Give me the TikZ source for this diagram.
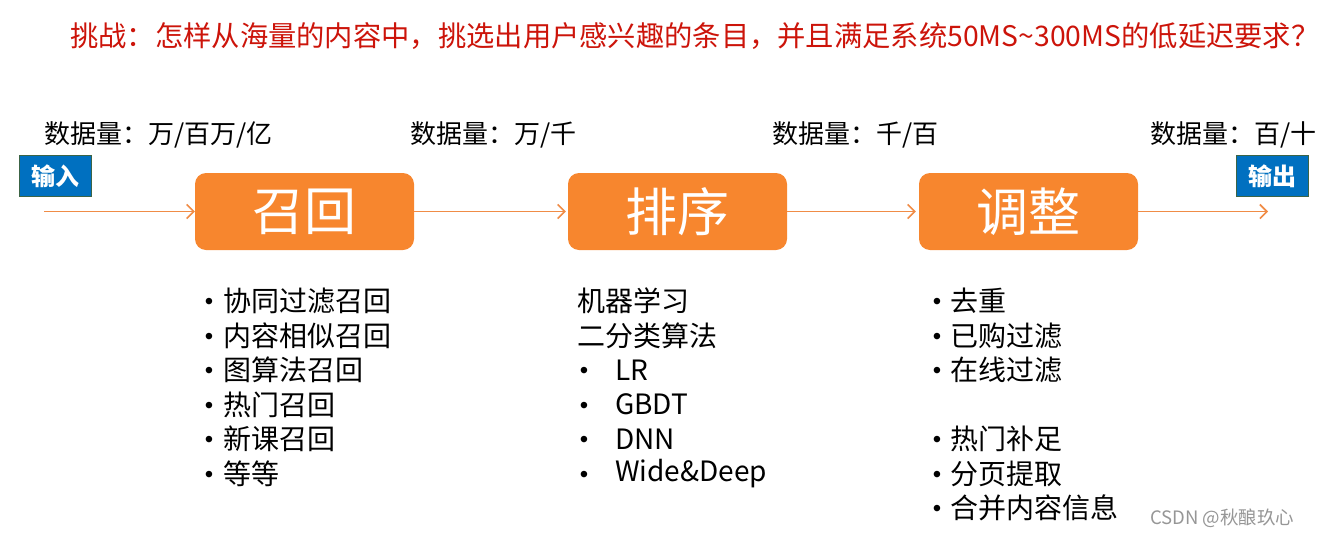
\documentclass[tikz,border=0pt]{standalone}
\usepackage{fontspec}
\setmainfont{Noto Sans CJK SC}
\newfontfamily\bulletfont{Liberation Sans}
\usetikzlibrary{arrows.meta}
\definecolor{titlered}{RGB}{204,20,10}
\definecolor{boxorange}{RGB}{247,134,46}
\definecolor{lineorange}{RGB}{240,140,70}
\definecolor{ioblue}{RGB}{0,112,192}
\definecolor{ioborder}{RGB}{60,100,70}
\definecolor{wmgray}{RGB}{150,150,150}
\tikzset{
  stage/.style={fill=boxorange, draw=none, rounded corners=11pt, minimum width=219pt, minimum height=77pt, inner sep=0pt, text=white, font=\fontsize{52}{58}\selectfont},
  iobox/.style={fill=ioblue, draw=ioborder, line width=1pt, minimum width=72pt, minimum height=41pt, inner sep=0pt, text=white, font=\fontsize{24}{28}\selectfont\bfseries},
  vol/.style={anchor=west, inner sep=0pt, font=\fontsize{26}{30}\selectfont},
  item/.style={anchor=west, inner sep=0pt, font=\fontsize{28}{32}\selectfont},
  bul/.style={anchor=center, inner sep=0pt, font=\bulletfont\fontsize{24}{28}\selectfont},
  flow/.style={draw=lineorange, line width=1.6pt, -{Straight Barb[length=7pt,width=14pt,line width=1.6pt]}}
}
\begin{document}
\begin{tikzpicture}[x=1pt,y=-1pt]
\useasboundingbox (0,0) rectangle (1318,536);
% title
\node[anchor=west, inner sep=0pt, text=titlered, font=\fontsize{28.3}{32}\selectfont] (title) at (70,36) {挑战：怎样从海量的内容中，挑选出用户感兴趣的条目，并且满足系统50MS\textasciitilde300MS的低延迟要求？};
% volumes
\node[vol] (v1) at (44,135) {数据量：万/百万/亿};
\node[vol] (v2) at (410,135) {数据量：万/千};
\node[vol] (v3) at (772,135) {数据量：千/百};
\node[vol] (v4) at (1150,135) {数据量：百/十};
% io boxes
\node[iobox] (in) at (55,176) {输入};
\node[iobox] (out) at (1272,176) {输出};
% stages
\node[stage] (recall) at (304.5,211.5) {召回};
\node[stage] (rank) at (677.5,211.5) {排序};
\node[stage] (adjust) at (1028.5,211.5) {调整};
\coordinate (start) at (44,211.5);
\coordinate (end) at (1268,211.5);
\draw[flow] (start) -- (recall.west);
\draw[flow] (recall.east) -- ([xshift=-2pt]rank.west);
\draw[flow] (rank.east) -- ([xshift=-3pt]adjust.west);
\draw[flow] (adjust.east) -- (end);
% left list
\foreach \y/\n in {301/1,335.5/2,370/3,404.5/4,439/5,473.5/6}
  \node[bul] (lb\n) at (209,\y+3) {•};
\node[item] (l1) at (223,301) {协同过滤召回};
\node[item] (l2) at (223,335.5) {内容相似召回};
\node[item] (l3) at (223,370) {图算法召回};
\node[item] (l4) at (223,404.5) {热门召回};
\node[item] (l5) at (223,439) {新课召回};
\node[item] (l6) at (223,473.5) {等等};
% middle list
\node[item] (m1) at (577,301) {机器学习};
\node[item] (m2) at (577,335.5) {二分类算法};
\foreach \y/\n in {370/3,404.5/4,439/5,473.5/6}
  \node[bul] (mb\n) at (584,\y+3) {•};
\node[item] (m3) at (615,370) {LR};
\node[item] (m4) at (615,404.5) {GBDT};
\node[item] (m5) at (615,439) {DNN};
\node[item] (m6) at (615,473.5) {Wide\&Deep};
% right list
\foreach \y/\n in {301/1,335.5/2,370/3,439/4,473.5/5,508/6}
  \node[bul] (rb\n) at (937,\y+3) {•};
\node[item] (r1) at (950,301) {去重};
\node[item] (r2) at (950,335.5) {已购过滤};
\node[item] (r3) at (950,370) {在线过滤};
\node[item] (r4) at (950,439) {热门补足};
\node[item] (r5) at (950,473.5) {分页提取};
\node[item] (r6) at (950,508) {合并内容信息};
% watermark
\node[anchor=west, inner sep=0pt, text=wmgray, font=\fontsize{18.5}{20}\selectfont] (wm) at (1150,518) {CSDN @秋酿玖心};
\end{tikzpicture}
\end{document}
